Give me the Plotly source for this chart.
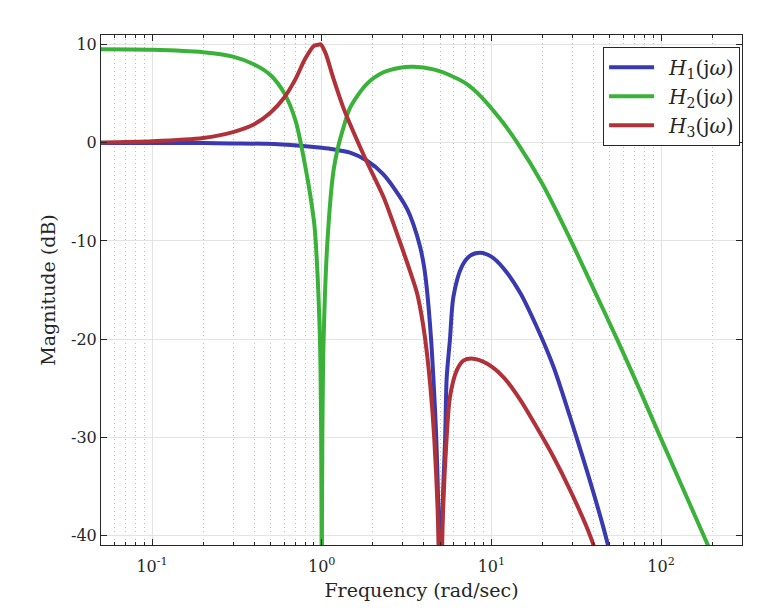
import plotly.graph_objects as go

# ---- data ----
w1 = [0.05, 0.1, 0.2, 0.3, 0.47, 0.745, 1.0, 1.17, 1.47, 1.84, 2.31, 2.89, 3.2, 3.47, 3.8,
      4.0, 4.16, 4.41, 4.6, 4.73, 4.9, 5.0, 5.1, 5.34, 5.45, 5.7, 5.97, 6.7, 7.5, 8.6, 10.0,
      11.8, 14.8, 18.5, 23.2, 29.1, 36.5, 45.7, 52.0]
h1_db = [0.0, 0.0, -0.02, -0.05, -0.1, -0.3, -0.5, -0.65, -1.0, -1.8, -3.2, -5.5, -6.8, -8.3, -10.6,
         -12.5, -14.8, -20.0, -25.5, -30.0, -40.0, -80.0, -40.0, -30.0, -24.0, -20.0, -15.7, -12.6, -11.5, -11.2, -11.6,
         -12.8, -15.3, -18.75, -22.8, -27.95, -33.4, -39.2, -43.0]

w2 = [0.05, 0.1, 0.2, 0.3, 0.4, 0.5, 0.6, 0.7, 0.8, 0.9, 0.921, 0.976, 0.9924, 0.9976,
      1.0, 1.0027, 1.0084, 1.026, 1.081, 1.17, 1.25, 1.34, 1.47, 1.84, 2.31, 2.89, 3.47,
      4.55, 5.7, 7.17, 8.6, 11.3, 14.1, 20.0, 29.1, 39.8, 55.0, 74.1, 99.0, 178.0, 200.0]
h2_db = [9.55, 9.5, 9.25, 8.8, 8.0, 6.9, 5.1, 2.3, -2.4, -8.0, -10.0, -20.0, -30.0, -40.0,
         -80.0, -40.0, -30.0, -20.0, -10.0, -3.0, -0.4, 1.5, 3.6, 6.0, 7.2, 7.67, 7.77,
         7.5, 6.9, 6.0, 4.8, 2.4, 0.1, -4.2, -9.8, -14.8, -20.0, -25.0, -30.0, -40.0, -42.0]

w3 = [0.05, 0.1, 0.2, 0.3, 0.4, 0.5, 0.6, 0.7, 0.8, 0.9, 0.95, 0.985, 1.05, 1.17, 1.34,
      1.47, 1.84, 2.31, 2.77, 3.2, 3.63, 3.85, 4.07, 4.35, 4.6, 4.87, 5.0, 5.14, 5.45, 5.7, 6.25,
      6.84, 7.8, 9.4, 11.8, 14.8, 18.5, 23.2, 29.1, 36.5, 42.0]
h3_db = [0.05, 0.17, 0.5, 1.1, 1.9, 3.1, 4.6, 6.5, 8.6, 9.9, 10.0, 10.05, 9.2, 6.6, 3.6,
         1.9, -1.9, -5.5, -9.2, -12.3, -15.2, -17.3, -20.0, -24.5, -30.0, -40.0, -80.0, -40.0, -30.0, -25.9, -23.2,
         -22.2, -22.0, -22.5, -23.9, -26.2, -29.0, -32.0, -35.4, -39.2, -42.0]

names = ["\u2002<i>H</i><sub>1</sub>(j<i>ω</i>)", "\u2002<i>H</i><sub>2</sub>(j<i>ω</i>)",
         "\u2002<i>H</i><sub>3</sub>(j<i>ω</i>)"]
colors = ["rgb(58,58,176)", "rgb(58,178,58)", "rgb(176,50,56)"]

x_tickvals = [0.1, 1, 10, 100]
x_ticktext = ["10<sup>-1</sup>", "10<sup>0</sup>", "10<sup>1</sup>", "10<sup>2</sup>"]
x_minorvals = [0.05, 0.06, 0.07, 0.08, 0.09,
               0.2, 0.3, 0.4, 0.5, 0.6, 0.7, 0.8, 0.9,
               2, 3, 4, 5, 6, 7, 8, 9,
               20, 30, 40, 50, 60, 70, 80, 90,
               200, 300]
y_tickvals = [-40, -30, -20, -10, 0, 10]
y_ticktext = ["-40", "-30", "-20", "-10", "0", "10"]

FONT = "DejaVu Serif"
INK = "#262626"

fig = go.Figure()
for w, h, n, c in zip([w1, w2, w3], [h1_db, h2_db, h3_db], names, colors):
    fig.add_trace(go.Scatter(x=w, y=h, mode="lines", name=n,
                             line=dict(color=c, width=4, shape="spline", smoothing=0.8)))

axis_common = dict(
    showline=True, linecolor=INK, linewidth=1, mirror="ticks",
    ticks="inside", tickcolor=INK, ticklen=6,
    showgrid=True, gridcolor="#e3e3e3", gridwidth=1,
    zeroline=False, automargin=False,
    tickfont=dict(family=FONT, size=16, color=INK),
)

fig.update_xaxes(
    type="log", range=[-1.30103, 2.4771],
    tickmode="array", tickvals=x_tickvals, ticktext=x_ticktext,
    ticklabelstandoff=7,
    minor=dict(tickmode="array", tickvals=x_minorvals,
               ticks="inside", ticklen=3, tickcolor=INK,
               showgrid=True, gridcolor="#bdbdbd", griddash="1px,3px", gridwidth=1),
    title=dict(text="Frequency (rad/sec)", font=dict(family=FONT, size=19, color=INK),
               standoff=8),
    **axis_common)
fig.update_yaxes(
    range=[-41, 11], tickmode="array", tickvals=y_tickvals, ticktext=y_ticktext,
    title=dict(text="Magnitude (dB)", font=dict(family=FONT, size=19, color=INK),
               standoff=10),
    **axis_common)

# the page body adds an 8px margin, so the figure is drawn 8px smaller
fig.update_layout(
    width=765, height=608,
    margin=dict(l=93, r=31, t=27, b=71),
    paper_bgcolor="white", plot_bgcolor="white",
    showlegend=True,
    legend=dict(x=0.997, y=0.977, xanchor="right", yanchor="top",
                bgcolor="white", bordercolor=INK, borderwidth=1,
                font=dict(family=FONT, size=20, color=INK),
                itemwidth=45, tracegroupgap=0),
)

fig.write_html("out.html")
